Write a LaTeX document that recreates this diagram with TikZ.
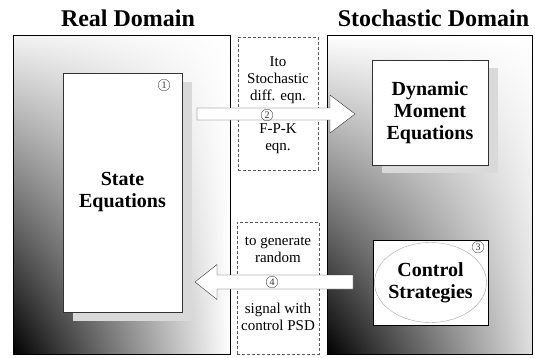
\documentclass[tikz,border=0pt]{standalone}
\usepackage{fontspec}
\setmainfont{Liberation Serif}
\usetikzlibrary{calc,shadows,shadings,positioning}

\begin{document}
\begin{tikzpicture}[x=1pt,y=-1pt,
  domainbox/.style={draw=black,line width=1pt,shade,lower left=black,upper left=gray!10,upper right=white,lower right=white},
  eqbox/.style={draw=black!80,thin,fill=white,align=center,font=\fontsize{20}{22}\selectfont\bfseries},
  linkbox/.style={draw=black!65,densely dashed,thin},
  linktext/.style={align=center,font=\fontsize{15}{17}\selectfont},
  numcirc/.style={circle,draw=black!70,thin,inner sep=1.2pt,font=\fontsize{10}{10}\selectfont,text=black!80},
  blockarr/.style={fill=white,draw=black!80,thin}]
\useasboundingbox (0,0) rectangle (535,357);
% the two domains
\node[domainbox,minimum width=217,minimum height=319] (realbox) at (121.5,194.5) {};
\node[domainbox,lower right=gray!25,upper left=white,minimum width=205,minimum height=319] (stochbox) at (429.5,194.5) {};
\node[font=\fontsize{24}{28}\selectfont\bfseries] (realtitle) at (128,18) {Real Domain};
\node[font=\fontsize{24}{28}\selectfont\bfseries] (stochtitle) at (433.5,18) {Stochastic Domain};
% the boxes in between
\node[linkbox,minimum width=80,minimum height=133] (fwdbox) at (278,103.5) {};
\node[linkbox,minimum width=82,minimum height=132] (bwdbox) at (278,288) {};
\node[linktext] (ito) at (278,80) {Ito\\Stochastic\\diff. eqn.};
\node[linktext] (fpk) at (278,139) {F-P-K\\eqn.};
\node[linktext] (gen) at (278,249.5) {to generate\\random};
\node[linktext] (psd) at (278,316.5) {signal with\\control PSD};
% blocks
\node[eqbox,minimum width=119,minimum height=239,
  drop shadow={shadow xshift=10pt,shadow yshift=-9pt,fill=gray!30,opacity=1}] (state) at (122.5,192.5) {State\\Equations};
\node[eqbox,minimum width=116,minimum height=105,
  drop shadow={shadow xshift=10pt,shadow yshift=-8pt,fill=gray!30,opacity=1}] (dyn) at (430,112.5) {Dynamic\\Moment\\Equations};
\node[eqbox,draw=black,minimum width=115,minimum height=85] (ctrl) at (430.5,282.5) {Control\\Strategies};
\draw[gray!70,thin] (ctrl.center) ellipse [x radius=56pt,y radius=40pt];
% block arrows
\coordinate (fwdS) at (197,114);
\coordinate (fwdT) at (355,114);
\coordinate (bwdS) at (353,282);
\coordinate (bwdT) at (195,282);
\draw[blockarr] ($(fwdS)+(0,-6)$) -- ($(fwdT)+(-25,-6)$) -- ($(fwdT)+(-25,-19)$) -- (fwdT)
  -- ($(fwdT)+(-25,19)$) -- ($(fwdT)+(-25,6)$) -- ($(fwdS)+(0,6)$) -- cycle;
\draw[blockarr] ($(bwdS)+(0,-7)$) -- ($(bwdT)+(22,-7)$) -- ($(bwdT)+(22,-17.5)$) -- (bwdT)
  -- ($(bwdT)+(22,17.5)$) -- ($(bwdT)+(22,7)$) -- ($(bwdS)+(0,7)$) -- cycle;
% numbers
\node[numcirc] (n1) at (164,85) {1};
\node[numcirc] (n2) at (267,115) {2};
\node[numcirc] (n3) at (478,247) {3};
\node[numcirc] (n4) at (272,282) {4};
\end{tikzpicture}
\end{document}
